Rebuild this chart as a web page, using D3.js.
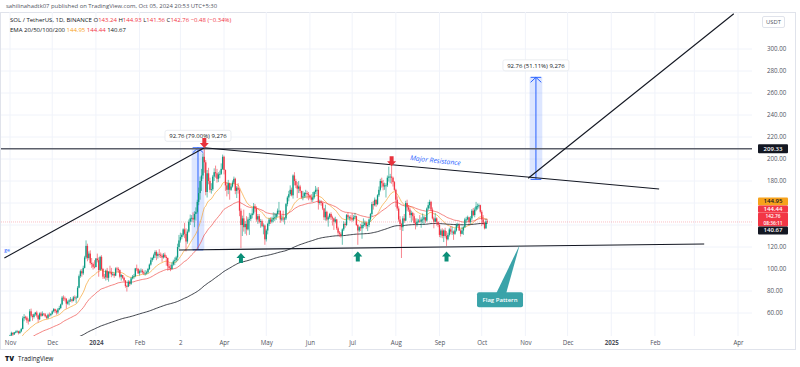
<!DOCTYPE html>
<html>
<head>
<meta charset="utf-8">
<script src="https://cdn.jsdelivr.net/npm/d3@7"></script>
<style>
	body { margin: 0; background: #fff; }
	svg { display: block; font-family: "Open Sans", Lato, sans-serif; }
</style>
</head>
<body>
<svg id="chart" width="800" height="367"></svg>
<script>
//===============================================
//------------------ DATA -----------------------
//===============================================
// SOL/USDT daily candles, 2023-11-01 .. 2024-10-05
var startDate = Date.UTC(2023, 10, 1);
var firstOpen = 38.6;

var closes = [
	39.6,42.0,40.5,42.5,42.9,43.4,41.8,43.3,45.5,55.2,56.5,55.8,53.2,52.5,61.5,57.5,56.4,58.9,60.4,57.8,54.3,59.6,57.5,59.4,58.8,57.0,55.6,58.5,58.0,59.2,
	61.5,63.5,61.8,60.5,63.2,64.5,67.8,74.0,73.2,73.0,68.5,70.3,71.5,72.3,71.0,74.2,73.5,74.0,83.0,93.5,98.0,96.0,101.0,110.5,121.0,110.0,114.0,105.5,104.5,102.0,101.8,
	109.5,108.0,99.0,111.0,100.0,93.0,92.5,98.5,92.0,97.5,97.0,95.0,95.5,94.0,100.5,100.0,99.0,93.0,94.5,92.0,89.5,84.5,84.0,88.5,86.5,91.5,93.0,93.5,100.5,100.0,96.0,
	98.0,98.5,97.0,96.0,96.0,97.0,100.0,104.0,108.0,110.0,112.5,115.5,112.0,113.5,113.0,112.0,110.5,113.0,111.0,110.0,102.5,101.0,100.0,104.0,107.0,108.0,110.5,120.0,126.0,
	129.0,131.0,136.0,132.0,125.0,134.0,143.0,146.0,146.5,145.0,150.0,152.0,161.0,169.0,180.0,185.0,202.0,197.0,170.0,187.0,180.0,172.0,172.5,184.0,188.0,187.0,182.0,186.0,186.5,191.0,202.0,
	190.0,176.0,172.0,178.0,172.0,175.0,178.5,182.0,171.0,174.0,172.0,153.0,140.0,146.0,138.0,141.0,136.0,145.0,145.5,149.0,150.5,157.0,155.0,145.0,148.0,143.0,143.5,139.0,139.5,127.0,
	135.0,141.0,145.0,143.0,145.0,146.5,147.0,150.0,153.0,153.0,145.0,146.0,145.0,146.0,159.0,165.0,168.0,172.0,167.0,185.0,180.0,176.0,173.0,175.0,171.0,165.0,166.0,169.0,169.0,168.0,167.0,
	165.0,163.0,165.0,170.0,172.0,172.0,160.0,161.0,160.0,155.0,147.0,152.0,145.0,147.0,150.0,147.0,146.0,143.0,145.0,137.0,133.0,132.0,130.0,136.0,141.0,140.0,149.0,147.0,147.0,146.0,
	145.0,147.0,148.0,140.0,135.0,138.0,137.0,140.0,140.0,142.0,139.0,140.0,145.0,150.0,159.0,158.0,163.0,159.0,167.0,172.0,180.0,178.0,175.0,176.0,176.0,183.0,184.0,184.0,183.0,179.0,172.0,
	163.0,155.0,145.0,141.0,138.0,146.0,144.0,160.0,156.0,154.0,149.0,151.0,148.0,142.0,141.0,143.0,144.0,143.0,145.0,145.0,147.0,144.0,155.0,158.0,161.0,154.0,146.0,143.0,146.0,143.0,140.0,
	131.0,135.0,130.0,135.0,130.0,127.0,131.0,136.0,134.0,134.0,132.0,135.0,140.0,140.0,135.0,132.0,135.0,138.0,145.0,145.0,147.0,143.0,146.0,153.0,149.0,154.0,157.0,157.0,158.0,152.0,
	145.0,142.0,137.0,143.24,142.76
];

var highs = [
	40.2,43.0,42.3,42.8,44.0,44.6,43.9,44.2,46.5,57.0,59.0,57.5,57.0,55.0,63.5,64.0,59.0,59.5,61.0,62.0,58.5,60.5,61.0,61.5,60.0,60.0,58.0,59.5,60.5,60.0,
	62.5,64.5,64.0,63.0,64.5,66.5,68.5,75.5,76.0,75.0,73.5,71.5,73.0,74.5,73.0,75.5,76.0,75.5,84.5,95.0,99.5,100.0,103.0,112.0,126.0,123.0,116.0,117.0,110.0,106.0,108.0,
	110.0,114.0,110.5,112.0,112.5,101.0,95.5,99.5,101.0,98.0,103.0,101.0,97.5,96.5,101.5,102.0,101.5,99.5,95.5,94.5,93.0,90.0,85.5,90.0,89.5,92.5,94.5,95.5,101.0,104.0,101.0,
	99.5,100.5,100.0,98.5,99.0,98.5,101.0,105.0,110.5,111.0,114.0,117.0,117.0,115.0,118.0,115.0,114.0,114.5,115.0,112.5,110.5,105.0,104.0,106.0,108.5,110.5,112.0,123.0,131.0,
	133.0,132.5,137.0,142.0,137.0,136.0,145.0,149.5,149.0,151.5,152.5,156.0,163.0,174.0,184.0,191.0,205.0,210.0,199.0,190.0,192.0,183.0,178.0,185.5,191.5,194.0,191.0,188.0,189.5,196.0,204.0,
	203.0,190.5,179.0,181.0,178.5,177.0,180.5,184.0,183.0,175.5,178.0,173.5,155.0,148.5,154.0,143.5,148.0,147.0,151.0,150.5,155.0,160.0,159.0,157.0,150.0,150.0,145.5,145.0,141.5,140.5,
	136.5,142.0,146.5,147.0,147.5,151.5,151.0,151.0,155.0,161.0,148.5,149.0,153.0,147.0,160.0,166.5,171.0,176.0,174.0,186.0,188.0,182.0,179.0,180.0,176.5,171.0,171.0,170.0,172.0,171.0,170.0,
	167.5,168.0,170.0,171.0,175.5,174.0,174.5,163.0,162.5,161.0,155.5,158.5,153.0,148.5,151.0,151.5,148.5,146.5,147.5,145.5,138.5,134.5,133.5,137.0,143.5,142.5,150.0,151.0,148.5,149.0,
	150.5,149.0,151.0,148.5,141.0,139.0,141.0,142.5,146.0,144.0,143.5,141.5,146.0,151.0,161.0,162.0,165.0,163.0,168.0,175.0,182.0,183.0,181.0,178.5,178.0,185.0,193.0,186.5,193.5,184.0,180.0,
	173.0,166.0,157.0,148.0,142.0,148.0,150.0,162.0,163.0,158.0,156.0,153.0,152.0,150.5,146.0,146.0,145.5,149.0,147.0,150.5,148.5,147.5,156.0,161.0,163.0,162.0,156.0,147.5,151.0,147.0,143.0,
	141.0,136.5,137.0,136.0,137.5,134.5,133.0,137.5,139.0,138.5,135.0,137.0,141.5,142.0,141.5,136.5,138.5,139.0,146.5,147.5,148.5,147.5,148.0,154.5,155.5,156.0,161.0,159.5,159.5,158.5,
	153.5,149.0,143.0,145.5,144.93
];

var lows = [
	37.5,39.0,39.0,40.0,41.5,41.8,40.5,41.0,42.5,45.0,52.5,54.0,51.0,49.5,52.0,56.0,53.0,55.0,57.5,56.0,51.5,53.5,56.5,57.0,57.5,56.0,54.5,54.5,56.5,57.0,
	58.5,60.5,60.0,58.5,59.0,62.5,63.5,67.0,71.0,70.5,64.0,67.5,67.0,70.0,69.5,70.5,71.5,69.0,73.5,82.5,92.0,93.0,94.5,100.5,109.0,107.0,108.5,104.0,101.0,99.5,100.5,
	101.5,106.0,93.0,98.5,99.0,91.0,91.0,89.5,90.0,88.5,95.5,92.5,93.5,92.0,93.5,97.5,96.5,91.5,89.5,91.0,88.5,83.0,79.5,83.5,84.5,85.5,90.5,91.0,92.5,98.0,95.5,
	94.0,96.5,95.5,94.5,94.0,95.0,96.0,99.0,103.0,106.5,108.5,110.0,108.0,109.5,110.5,110.0,106.5,109.5,110.0,103.0,98.5,99.0,98.0,99.5,103.0,103.5,106.0,107.5,118.0,
	124.0,127.0,129.5,128.0,116.0,123.0,133.0,140.0,143.0,142.5,138.0,144.0,150.5,158.0,163.0,171.0,182.0,187.5,167.0,165.0,177.0,169.5,168.5,171.0,180.0,183.0,178.5,179.0,182.5,185.5,190.0,
	186.0,171.0,166.0,168.0,163.0,171.0,174.0,177.0,168.0,164.5,168.5,148.0,119.0,130.0,134.0,132.0,130.5,135.0,131.0,143.5,146.0,149.0,152.0,143.0,141.0,141.5,137.5,138.0,131.5,122.0,
	125.0,131.5,139.0,141.0,141.5,142.5,143.5,144.5,147.5,150.5,142.0,143.5,143.0,140.5,144.5,157.0,161.5,166.5,166.0,164.0,176.0,173.5,164.5,169.0,169.0,164.0,162.5,164.5,165.0,164.0,162.5,
	163.5,161.0,161.0,163.5,168.0,167.5,154.0,158.5,157.5,153.5,144.5,144.0,143.5,138.5,145.5,144.5,139.5,135.5,141.5,135.5,130.5,129.5,128.5,122.0,134.5,137.5,139.0,145.5,144.0,143.5,
	143.0,143.5,146.0,139.0,122.0,133.5,134.5,127.5,137.0,138.5,136.5,134.5,138.0,143.0,148.0,154.0,157.0,156.5,158.0,165.5,170.5,174.0,171.5,172.0,165.0,174.5,179.5,178.0,177.5,175.0,171.0,
	156.5,153.0,143.0,135.5,110.0,134.5,142.0,143.5,152.5,152.0,146.5,142.5,144.0,141.0,136.0,138.5,141.5,142.0,137.5,141.5,140.0,142.0,143.0,153.5,155.0,152.5,145.0,137.0,142.5,139.5,138.0,
	129.0,128.5,128.0,124.5,128.5,121.0,126.0,129.5,131.5,131.0,126.5,131.0,134.0,138.0,134.5,129.5,131.5,131.0,137.5,141.5,144.0,141.0,141.0,144.5,148.0,147.0,152.5,154.0,155.0,150.5,
	139.0,140.0,136.0,136.5,141.56
];

// EMA lengths and their values on 2023-10-31 (seed)
var emaPeriods = [20, 50, 200];
var emaSeeds = [31, 27, 23.5];
var emaColors = ['#f7a73b', '#ef5350', '#131722'];

// axis ticks
var priceTicks = [60, 80, 100, 120, 180, 200, 220, 240, 260, 280, 300];
var gridPrices = [60, 80, 100, 120, 140, 160, 180, 200, 220, 240, 260, 280, 300];
var timeTicks = ['2023-11-01','2023-12-01','2024-01-01','2024-02-01','2024-03-01','2024-04-01','2024-05-01','2024-06-01','2024-07-01','2024-08-01','2024-09-01','2024-10-01','2024-11-01','2024-12-01','2025-01-01','2025-02-01','2025-04-01'];
var timeLabels = ['Nov','Dec','2024','Feb','2','Apr','May','Jun','Jul','Aug','Sep','Oct','Nov','Dec','2025','Feb','Apr'];

// drawings: [date, price]
var hLevel = 209.33;
var lastPrice = 142.76;
var riseLine = [['2023-10-28', 110], ['2024-03-18', 210.2]];
var resistLine = [['2024-03-18', 210.2], ['2025-02-04', 172.7]];
var supportLine = [['2024-02-29', 117.3], ['2025-03-08', 122.7]];
var breakoutLine = [['2024-11-03', 182.5], ['2025-03-29', 332]];
var measures = [
	{from: '2024-03-09', to: '2024-03-18', lo: 117.42, hi: 210.18, label: '92.76 (79.00%) 9,276'},
	{from: '2024-11-04', to: '2024-11-13', lo: 181.49, hi: 274.25, label: '92.76 (51.11%) 9,276'}
];
var downArrows = [['2024-03-18', 210], ['2024-07-29', 193.5]];
var upArrows = [['2024-04-13', 114.5], ['2024-07-05', 116], ['2024-09-06', 116]];

//===============================================
//------------------ CHART ----------------------
//===============================================
var plotL = 1, plotR = 752, plotT = 12, plotB = 336;
var upCol = '#089981', downCol = '#f23645';

var svg = d3.select('#chart');
var day = function (s) { return new Date(s + 'T00:00:00Z'); };

var x = d3.scaleUtc()
	.domain([day('2023-11-01'), day('2025-04-01')])
	.range([10, 738]);
var y = d3.scaleLinear()
	.domain([60, 300])
	.range([313, 49]);

var candles = closes.map(function (c, i) {
	return {
		date: new Date(startDate + i * 864e5),
		o: i ? closes[i - 1] : firstOpen,
		h: highs[i], l: lows[i], c: c
	};
});

var emas = emaPeriods.map(function (p, k) {
	var e = emaSeeds[k], a = 2 / (p + 1);
	return candles.map(function (d) { e = a * d.c + (1 - a) * e; return {date: d.date, v: e}; });
});

// frame
svg.append('rect').attr('x', 0.5).attr('y', plotT + 0.5).attr('width', 795).attr('height', 337)
	.attr('fill', '#fff').attr('stroke', '#e0e3eb');

svg.append('defs').append('clipPath').attr('id', 'plotClip')
	.append('rect').attr('x', plotL).attr('y', plotT + 1).attr('width', plotR - plotL).attr('height', plotB - plotT - 1);

// grid
var grid = svg.append('g');
grid.selectAll('.vg').data(timeTicks.concat(['2025-03-01'])).enter().append('line')
	.attr('x1', function (d) { return x(day(d)); }).attr('x2', function (d) { return x(day(d)); })
	.attr('y1', plotT).attr('y2', plotB)
	.attr('stroke', '#f0f3fa').attr('stroke-width', 1);
grid.selectAll('.hg').data(gridPrices).enter().append('line')
	.attr('x1', plotL).attr('x2', plotR)
	.attr('y1', function (d) { return y(d); }).attr('y2', function (d) { return y(d); })
	.attr('stroke', '#f0f3fa').attr('stroke-width', 1);

var plot = svg.append('g').attr('clip-path', 'url(#plotClip)');

// current price line
plot.append('line')
	.attr('x1', plotL).attr('x2', plotR)
	.attr('y1', y(lastPrice)).attr('y2', y(lastPrice))
	.attr('stroke', '#f23645').attr('stroke-opacity', 0.45)
	.attr('stroke-width', 0.7).attr('stroke-dasharray', '1,1');

// measure boxes (behind candles)
var mg = plot.selectAll('.measure').data(measures).enter().append('g');
mg.append('rect')
	.attr('x', function (d) { return x(day(d.from)); })
	.attr('y', function (d) { return y(d.hi); })
	.attr('width', function (d) { return x(day(d.to)) - x(day(d.from)); })
	.attr('height', function (d) { return y(d.lo) - y(d.hi); })
	.attr('fill', '#2962ff').attr('fill-opacity', 0.16);

// EMAs
var emaLine = d3.line().x(function (d) { return x(d.date); }).y(function (d) { return y(d.v); });
plot.selectAll('.ema').data(emas).enter().append('path')
	.attr('d', emaLine)
	.attr('fill', 'none')
	.attr('stroke', function (d, i) { return emaColors[i]; })
	.attr('stroke-opacity', function (d, i) { return i == 2 ? 0.9 : 0.8; })
	.attr('stroke-width', 0.9);

// candles
var cg = plot.selectAll('.candle').data(candles).enter().append('g');
cg.append('line')
	.attr('x1', function (d) { return x(d.date); }).attr('x2', function (d) { return x(d.date); })
	.attr('y1', function (d) { return y(Math.max(d.h, d.o, d.c)); })
	.attr('y2', function (d) { return y(Math.min(d.l, d.o, d.c)); })
	.attr('stroke', function (d) { return d.c >= d.o ? upCol : downCol; })
	.attr('stroke-width', 0.6);
cg.append('rect')
	.attr('x', function (d) { return x(d.date) - 0.65; })
	.attr('width', 1.3)
	.attr('y', function (d) { return y(Math.max(d.o, d.c)); })
	.attr('height', function (d) { return Math.max(0.8, Math.abs(y(d.o) - y(d.c))); })
	.attr('fill', function (d) { return d.c >= d.o ? upCol : downCol; });

// horizontal level 209.33
plot.append('line')
	.attr('x1', plotL).attr('x2', plotR)
	.attr('y1', y(hLevel)).attr('y2', y(hLevel))
	.attr('stroke', '#5d606b').attr('stroke-width', 1.6);

// trend lines
var seg = d3.line().x(function (d) { return x(day(d[0])); }).y(function (d) { return y(d[1]); });
plot.selectAll('.tl').data([riseLine, resistLine, supportLine, breakoutLine]).enter().append('path')
	.attr('d', seg).attr('fill', 'none')
	.attr('stroke', '#131722').attr('stroke-width', 1.1);

// measure arrows
mg.each(function (d) {
	var g = d3.select(this);
	var x0 = x(day(d.from)), x1 = x(day(d.to)), cx = (x0 + x1) / 2;
	var t = y(d.hi), b = y(d.lo);
	g.append('line').attr('x1', cx).attr('x2', cx).attr('y1', t).attr('y2', b)
		.attr('stroke', '#2962ff').attr('stroke-width', 1);
	g.append('line').attr('x1', x0 + 1).attr('x2', x1 - 1).attr('y1', t).attr('y2', t)
		.attr('stroke', '#2962ff').attr('stroke-width', 1);
	g.append('line').attr('x1', x0 + 1).attr('x2', x1 - 1).attr('y1', b).attr('y2', b)
		.attr('stroke', '#2962ff').attr('stroke-width', 1);
	g.append('path').attr('d', 'M' + (x0 + 1) + ',' + (t + 5) + 'L' + cx + ',' + t + 'L' + (x1 - 1) + ',' + (t + 5))
		.attr('fill', 'none').attr('stroke', '#2962ff').attr('stroke-width', 1);
});

// measure labels
var ml = svg.selectAll('.mlabel').data(measures).enter().append('g')
	.attr('transform', function (d) {
		var cx = (x(day(d.from)) + x(day(d.to))) / 2;
		return 'translate(' + cx + ',' + (y(d.hi) - 12) + ')';
	});
ml.append('rect').attr('x', -33).attr('y', -5.5).attr('width', 66).attr('height', 11).attr('rx', 2)
	.attr('fill', '#fff').attr('stroke', '#e6e8ee').attr('stroke-width', 0.8);
ml.append('text').attr('text-anchor', 'middle').attr('y', 2.2)
	.attr('font-size', 6).attr('fill', '#131722')
	.text(function (d) { return d.label; });

// arrows
function blockArrow(g, cx, tip, dir, col) {
	// dir = 1 pointing down, -1 pointing up
	var p = [[-2, -10], [2, -10], [2, -5], [4.5, -5], [0, 0], [-4.5, -5], [-2, -5]];
	g.append('path')
		.attr('d', 'M' + p.map(function (q) { return (cx + q[0]) + ',' + (tip + q[1] * dir); }).join('L') + 'Z')
		.attr('fill', col);
}
var ag = svg.append('g');
downArrows.forEach(function (d) { blockArrow(ag, x(day(d[0])), y(d[1]), 1, '#e8323c'); });
upArrows.forEach(function (d) { blockArrow(ag, x(day(d[0])), y(d[1]), -1, '#0b8f78'); });

// Major Resistance text
svg.append('text')
	.attr('transform', 'translate(' + x(day('2024-08-11')) + ',' + y(199) + ') rotate(6)')
	.attr('font-size', 6.8).attr('font-style', 'italic').attr('fill', '#2962ff')
	.text('Major Resistance');

// small cut-off label on the left
svg.append('text').attr('x', x(day('2023-10-28'))).attr('y', y(115.5))
	.attr('font-size', 5).attr('fill', '#2962ff').text('ge');

// Flag pattern callout
var tipX = x(day('2024-10-28')), tipY = y(122);
var bx = x(day('2024-10-14')), by = y(72);
svg.append('path')
	.attr('d', 'M' + (bx - 4) + ',' + (by - 6) + 'L' + tipX + ',' + tipY + 'L' + (bx + 6) + ',' + (by - 6) + 'Z')
	.attr('fill', '#3aa3a9');
svg.append('rect').attr('x', bx - 23).attr('y', by - 7.5).attr('width', 46).attr('height', 15).attr('rx', 2)
	.attr('fill', '#3aa3a9');
svg.append('text').attr('x', bx).attr('y', by + 2.2).attr('text-anchor', 'middle')
	.attr('font-size', 6).attr('font-weight', 600).attr('fill', '#fff').text('Flag Pattern');

//===============================================
//------------------ AXES -----------------------
//===============================================
var xAxis = d3.axisBottom(x)
	.tickValues(timeTicks.map(day))
	.tickSize(0)
	.tickFormat(function (d, i) { return timeLabels[i]; });
var xa = svg.append('g').attr('transform', 'translate(0,' + (plotB + 2) + ')').call(xAxis);
xa.select('.domain').remove();
xa.selectAll('text')
	.attr('font-family', '"Open Sans", sans-serif')
	.attr('font-size', 6.2)
	.attr('fill', '#50535e')
	.attr('font-weight', function (d, i) { return /^\d{4}$/.test(timeLabels[i]) ? 700 : 400; });

var yAxis = d3.axisRight(y)
	.tickValues(priceTicks)
	.tickSize(0)
	.tickFormat(d3.format('.2f'));
var ya = svg.append('g').attr('transform', 'translate(' + (plotR + 12) + ',0)').call(yAxis);
ya.select('.domain').remove();
ya.selectAll('text')
	.attr('font-family', '"Open Sans", sans-serif')
	.attr('font-size', 6.2)
	.attr('fill', '#50535e');

// USDT box
svg.append('rect').attr('x', 762.5).attr('y', 16.5).attr('width', 22).attr('height', 11).attr('rx', 1.5)
	.attr('fill', '#fff').attr('stroke', '#e0e3eb');
svg.append('text').attr('x', 773.5).attr('y', 24).attr('text-anchor', 'middle')
	.attr('font-size', 5.8).attr('fill', '#50535e').text('USDT');

// price labels on the axis
var priceTags = [
	{y: y(hLevel), h: 9, bg: '#131722', fg: '#fff', lines: ['209.33']},
	{y: 201.5, h: 8, bg: '#f7a21b', fg: '#131722', lines: ['144.95']},
	{y: 209, h: 7, bg: '#f23645', fg: '#fff', lines: ['144.44']},
	{y: 219.5, h: 14, bg: '#f23645', fg: '#fff', lines: ['142.76', '08:36:11']},
	{y: 230.5, h: 8, bg: '#131722', fg: '#fff', lines: ['140.67']}
];
var tg = svg.selectAll('.tag').data(priceTags).enter().append('g')
	.attr('transform', function (d) { return 'translate(758,' + d.y + ')'; });
tg.append('rect').attr('x', 0).attr('y', function (d) { return -d.h / 2; })
	.attr('width', 30).attr('height', function (d) { return d.h; }).attr('rx', 1)
	.attr('fill', function (d) { return d.bg; });
tg.each(function (d) {
	var g = d3.select(this);
	d.lines.forEach(function (t, i) {
		g.append('text').attr('x', 15).attr('text-anchor', 'middle')
			.attr('y', (i - (d.lines.length - 1) / 2) * 6.6 + 1.8)
			.attr('font-size', d.lines.length > 1 ? 4.8 : 6)
			.attr('font-weight', 600)
			.attr('fill', d.fg).text(t);
	});
});

//===============================================
//------------------ HEADER ---------------------
//===============================================
svg.append('text').attr('x', 6).attr('y', 8)
	.attr('font-size', 5.9).attr('fill', '#50535e')
	.text('sahilinahadtk07 published on TradingView.com, Oct 05, 2024 20:53 UTC+5:30');

var l1 = svg.append('text').attr('x', 10).attr('y', 22).attr('font-size', 6).attr('fill', '#131722');
l1.append('tspan').text('SOL / TetherUS, 1D, BINANCE  ');
[['O', '143.24'], ['H', '144.93'], ['L', '141.56'], ['C', '142.76']].forEach(function (p) {
	l1.append('tspan').attr('fill', '#131722').text(p[0]);
	l1.append('tspan').attr('fill', '#f23645').text(p[1] + ' ');
});
l1.append('tspan').attr('fill', '#f23645').text('\u22120.48 (\u22120.34%)');

var l2 = svg.append('text').attr('x', 10).attr('y', 31.5).attr('font-size', 6).attr('fill', '#131722');
l2.append('tspan').text('EMA 20/50/100/200  ');
l2.append('tspan').attr('fill', '#f7a21b').text('144.95  ');
l2.append('tspan').attr('fill', '#f23645').text('144.44  ');
l2.append('tspan').attr('fill', '#131722').text('140.67');

// footer logo
svg.append('text').attr('x', 5).attr('y', 361).attr('font-size', 7).attr('font-weight', 800)
	.attr('fill', '#131722').text('TV');
svg.append('text').attr('x', 18).attr('y', 361).attr('font-size', 6.2)
	.attr('fill', '#131722').text('TradingView');
</script>
</body>
</html>
